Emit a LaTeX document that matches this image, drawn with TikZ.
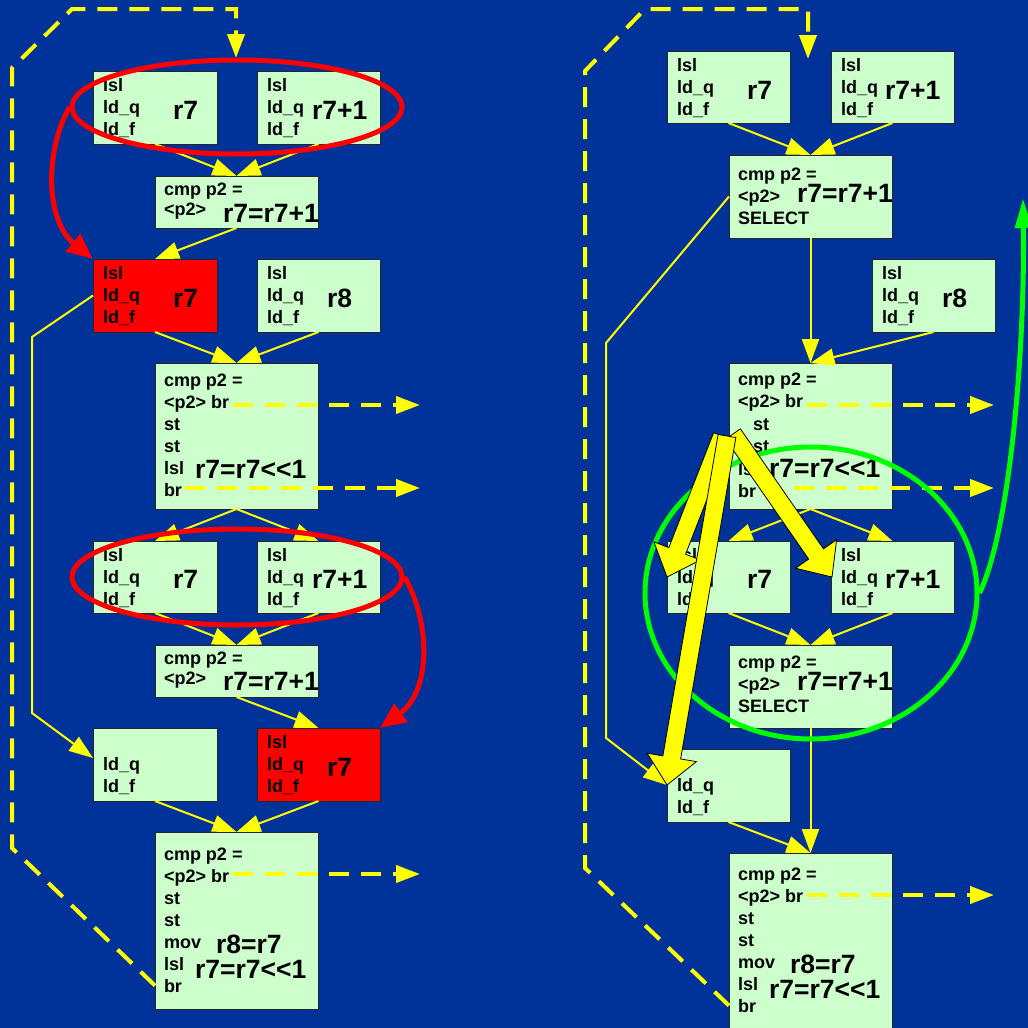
\documentclass[tikz,border=0pt]{standalone}
\usepackage{fontspec}
\setmainfont{Liberation Sans}
\usetikzlibrary{arrows.meta,calc,shapes.geometric}
\definecolor{bg}{HTML}{003399}
\definecolor{boxg}{HTML}{CCFFCC}
\definecolor{ylw}{HTML}{FFFF00}
\definecolor{grn}{HTML}{00FF00}
\definecolor{rd}{HTML}{FF0000}
\newcommand\txt[4]{\foreach \s [count=\i] in {#4}{\node[sm] (#1-\i) at (#2,{#3+22*(\i-1)}) {\s};}}
\newcommand\bx[6]{\node[#6, minimum width=#4pt, minimum height=#5pt] (#1) at (#2,#3) {};}
\newcommand\blockarr[3]{%
 \coordinate (#3h) at ($(#2)!28pt!(#1)$);
 \filldraw[fill=ylw, draw=black, line width=0.8pt, line join=miter]
   ($(#1)!9pt!90:(#2)$) -- ($(#3h)!9pt!90:(#2)$) -- ($(#3h)!25pt!90:(#2)$) -- (#2)
   -- ($(#3h)!25pt!-90:(#2)$) -- ($(#3h)!9pt!-90:(#2)$) -- ($(#1)!9pt!-90:(#2)$) -- cycle;}
\begin{document}
\begin{tikzpicture}[x=1pt,y=-1pt,
  box/.style={draw=black!85, line width=1pt, fill=boxg, anchor=north west, inner sep=0, outer sep=0},
  redbox/.style={box, fill=rd},
  sm/.style={font=\fontsize{18}{20}\selectfont\bfseries, anchor=base west, inner sep=0, outer sep=0},
  big/.style={font=\fontsize{26.5}{30}\selectfont\bfseries, anchor=base west, inner sep=0, outer sep=0},
  conn/.style={draw=ylw, line width=2pt, -{Triangle[length=24pt,width=17pt]}},
  dconn/.style={draw=ylw, line width=4pt, dash pattern=on 20pt off 12pt, -{Triangle[length=24pt,width=17pt]}},
  ring/.style={draw, ellipse, line width=5pt, inner sep=0, fill=none},
]
\clip (0,0) rectangle (1028,1028);
\fill[bg] (0,0) rectangle (1028,1028);

% ---------- boxes left ----------
\bx{L1}{93}{71}{124}{73}{box}
\bx{L2}{257}{71}{123}{73}{box}
\bx{L3}{155}{176}{163}{52}{box}
\bx{L4}{93}{259}{124}{73}{redbox}
\bx{L5}{257}{259}{123}{73}{box}
\bx{L6}{155}{363}{163}{146}{box}
\bx{L7}{93}{541}{124}{72}{box}
\bx{L8}{257}{541}{123}{72}{box}
\bx{L9}{155}{645}{163}{52}{box}
\bx{L10}{93}{728}{124}{73}{box}
\bx{L11}{257}{728}{123}{73}{redbox}
\bx{L12}{155}{832}{163}{177}{box}
% ---------- boxes right ----------
\bx{R1}{667}{51}{123}{72}{box}
\bx{R2}{831}{51}{123}{72}{box}
\bx{R3}{729}{155}{163}{83}{box}
\bx{R4}{872}{259}{123}{73}{box}
\bx{R5}{729}{363}{163}{146}{box}
\bx{R6}{667}{541}{123}{72}{box}
\bx{R7}{831}{541}{123}{72}{box}
\bx{R8}{729}{645}{163}{83}{box}
\bx{R9}{667}{749}{123}{73}{box}
\bx{R10}{729}{853}{163}{190}{box}

% ---------- small text ----------
\txt{L1}{103}{91}{lsl,ld\_q,ld\_f}
\txt{L2}{267}{91}{lsl,ld\_q,ld\_f}
\node[sm] (L3-1) at (164,195) {cmp p2 =};
\node[sm] (L3-2) at (164,215) {<p2>};
\txt{L4}{103}{279}{lsl,ld\_q,ld\_f}
\txt{L5}{267}{279}{lsl,ld\_q,ld\_f}
\txt{L6}{164}{386}{cmp p2 =,<p2> br,st,st,lsl,br}
\txt{L7}{103}{561}{lsl,ld\_q,ld\_f}
\txt{L8}{267}{561}{lsl,ld\_q,ld\_f}
\node[sm] (L9-1) at (164,664) {cmp p2 =};
\node[sm] (L9-2) at (164,684) {<p2>};
\txt{L10}{103}{770}{ld\_q,ld\_f}
\txt{L11}{267}{748}{lsl,ld\_q,ld\_f}
\txt{L12}{164}{860}{cmp p2 =,<p2> br,st,st,mov,lsl,br}
\txt{R1}{677}{71}{lsl,ld\_q,ld\_f}
\txt{R2}{841}{71}{lsl,ld\_q,ld\_f}
\txt{R3}{738}{180}{cmp p2 =,<p2>,SELECT}
\txt{R4}{882}{279}{lsl,ld\_q,ld\_f}
\txt{R5}{738}{385}{cmp p2 =,<p2> br}
\node[sm] (R5-3) at (753,430) {st};
\node[sm] (R5-4) at (753,452) {st};
\node[sm] (R5-5) at (738,475) {lsl};
\node[sm] (R5-6) at (738,497) {br};
\txt{R6}{677}{561}{lsl,ld\_q,ld\_f}
\txt{R7}{841}{561}{lsl,ld\_q,ld\_f}
\txt{R8}{738}{668}{cmp p2 =,<p2>,SELECT}
\txt{R9}{677}{791}{ld\_q,ld\_f}
\txt{R10}{738}{880}{cmp p2 =,<p2> br,st,st,mov,lsl,br}

% ---------- big text ----------
\node[big] (L1b) at (173,119) {r7};
\node[big] (L2b) at (312,119) {r7+1};
\node[big] (L3b) at (223,222) {r7=r7+1};
\node[big] (L4b) at (173,307) {r7};
\node[big] (L5b) at (327,307) {r8};
\node[big] (L6b) at (195,478) {r7=r7<{}<1};
\node[big] (L7b) at (173,588) {r7};
\node[big] (L8b) at (312,588) {r7+1};
\node[big] (L9b) at (223,690) {r7=r7+1};
\node[big] (L11b) at (327,776) {r7};
\node[big] (L12b) at (216,953) {r8=r7};
\node[big] (L12c) at (195,978) {r7=r7<{}<1};
\node[big] (R1b) at (747,99) {r7};
\node[big] (R2b) at (885,99) {r7+1};
\node[big] (R3b) at (797,202) {r7=r7+1};
\node[big] (R4b) at (942,307) {r8};
\node[big] (R5b) at (769,477) {r7=r7<{}<1};
\node[big] (R6b) at (747,588) {r7};
\node[big] (R7b) at (885,588) {r7+1};
\node[big] (R8b) at (797,690) {r7=r7+1};
\node[big] (R10b) at (790,973) {r8=r7};
\node[big] (R10c) at (769,998) {r7=r7<{}<1};

% ---------- thin connectors left ----------
\draw[conn] (L1.south) -- (L3.north);
\draw[conn] (L2.south) -- (L3.north);
\draw[conn] (L3.south) -- (L4.north);
\draw[conn] (L4.south) -- (L6.north);
\draw[conn] (L5.south) -- (L6.north);
\draw[conn] (L6.south) -- (L7.north);
\draw[conn] (L6.south) -- (L8.north);
\draw[conn] (L7.south) -- (L9.north);
\draw[conn] (L8.south) -- (L9.north);
\draw[conn] (L9.south) -- (L11.north);
\draw[conn] (L10.south) -- (L12.north);
\draw[conn] (L11.south) -- (L12.north);
\coordinate (la) at (32,337);
\coordinate (lb) at (32,713);
\coordinate (lc) at (93,758);
\draw[conn] (L4.west) -- (la) -- (lb) -- (lc);
% ---------- thin connectors right ----------
\draw[conn] (R1.south) -- (R3.north);
\draw[conn] (R2.south) -- (R3.north);
\draw[conn] (R3.south) -- (R5.north);
\draw[conn] (R4.south) -- (R5.north);
\draw[conn] (R5.south) -- (R6.north);
\draw[conn] (R5.south) -- (R7.north);
\draw[conn] (R6.south) -- (R8.north);
\draw[conn] (R7.south) -- (R8.north);
\draw[conn] (R8.south) -- (R10.north);
\draw[conn] (R9.south) -- (R10.north);
\coordinate (ra) at (606,343);
\coordinate (rb) at (606,738);
\coordinate (rc) at (667,785);
\draw[conn] (R3.west) -- (ra) -- (rb) -- (rc);

% ---------- dashed ----------
\coordinate (d1) at (12,848);
\coordinate (d2) at (12,68);
\coordinate (d3) at (72,9);
\coordinate (d4) at (236,9);
\coordinate (d5) at (236,58);
\draw[dconn] (L12.west |- L12-7) -- (d1) -- (d2) -- (d3) -- (d4) -- (d5);
\coordinate (e1) at (420,405);
\coordinate (e2) at (420,488);
\coordinate (e3) at (420,874);
\draw[dconn] ($(L6-2.east |- e1)+(4,0)$) -- (e1);
\draw[dconn] ($(L6-6.east |- e2)+(3,0)$) -- (e2);
\draw[dconn] ($(L12-2.east |- e3)+(4,0)$) -- (e3);
\coordinate (f1) at (585,868);
\coordinate (f2) at (585,71);
\coordinate (f3) at (645,9);
\coordinate (f4) at (808,9);
\coordinate (f5) at (808,59);
\draw[dconn] (R10.west |- R10-7) -- (f1) -- (f2) -- (f3) -- (f4) -- (f5);
\coordinate (g1) at (994,405);
\coordinate (g2) at (994,488);
\coordinate (g3) at (994,895);
\draw[dconn] ($(R5-2.east |- g1)+(4,0)$) -- (g1);
\draw[dconn] ($(R5-6.east |- g2)+(6,0)$) -- (g2);
\draw[dconn] ($(R10-2.east |- g3)+(4,0)$) -- (g3);

% ---------- rings ----------
\node[ring, draw=rd, minimum width=330pt, minimum height=94pt] (E1) at (237,107) {};
\node[ring, draw=rd, minimum width=330pt, minimum height=96pt] (E2) at (237,577) {};
\draw[rd, line width=5pt, -{Triangle[length=26pt,width=22pt]}] (E1.west) .. controls (45,150) and (45,220) .. (L4.north west);
\draw[rd, line width=5pt, -{Triangle[length=26pt,width=22pt]}] (E2.east) .. controls (430,620) and (432,690) .. (L11.north east);
\node[ring, draw=grn, minimum width=332pt, minimum height=292pt] (G) at (811,593) {};
\coordinate (gtip) at (1023,198);
\draw[grn, line width=5pt, -{Triangle[length=30pt,width=16pt]}] (G.east) .. controls (1010,530) and (1025,350) .. (gtip);

% ---------- block arrows ----------
\coordinate (a2s) at (733,434);
\coordinate (a2e) at (832,577);
\coordinate (a1s) at (722,436);
\coordinate (a1e) at (667,577);
\coordinate (a3s) at (727,436);
\coordinate (a3e) at (667,785);
\blockarr{a2s}{a2e}{a2}
\blockarr{a1s}{a1e}{a1}
\blockarr{a3s}{a3e}{a3}
\end{tikzpicture}
\end{document}
